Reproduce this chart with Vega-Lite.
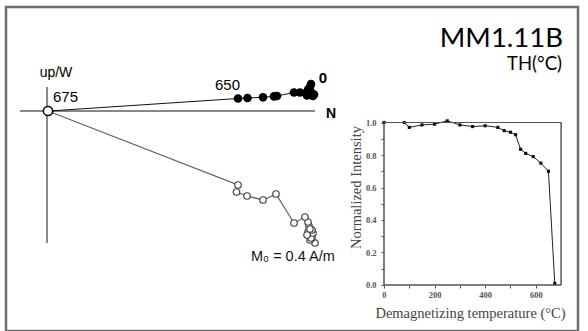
{
  "$schema": "https://vega.github.io/schema/vega-lite/v6.json",
  "width": 572,
  "height": 324,
  "autosize": {"type": "none"},
  "padding": {"left": 6, "top": 7, "right": 10, "bottom": 0},
  "background": "white",
  "config": {"view": {"stroke": "#6e6e6e", "strokeWidth": 2.5}, "font": "Liberation Sans"},
  "datasets": {
    "horizontal": [
      {"T": 0, "N": 264, "E": 27}, {"T": 80, "N": 263, "E": 24}, {"T": 100, "N": 262, "E": 22},
      {"T": 150, "N": 264, "E": 19}, {"T": 200, "N": 267, "E": 16.5}, {"T": 250, "N": 260, "E": 15.5},
      {"T": 300, "N": 266, "E": 15}, {"T": 350, "N": 261, "E": 21.5}, {"T": 400, "N": 265, "E": 16},
      {"T": 450, "N": 262, "E": 20}, {"T": 475, "N": 259, "E": 17.7}, {"T": 500, "N": 253, "E": 18.5},
      {"T": 520, "N": 247, "E": 18.5}, {"T": 540, "N": 230, "E": 15}, {"T": 560, "N": 227, "E": 14.6},
      {"T": 590, "N": 216, "E": 13.7}, {"T": 620, "N": 200.5, "E": 13}, {"T": 650, "N": 191, "E": 12.5},
      {"T": 675, "N": 2, "E": 0}
    ],
    "vertical": [
      {"T": 0, "N": 268, "Up": -132}, {"T": 80, "N": 263, "Up": -129}, {"T": 100, "N": 265, "Up": -127},
      {"T": 150, "N": 261, "Up": -121}, {"T": 200, "N": 264, "Up": -127}, {"T": 250, "N": 266, "Up": -122},
      {"T": 300, "N": 262, "Up": -115}, {"T": 350, "N": 265, "Up": -119}, {"T": 400, "N": 260, "Up": -124},
      {"T": 450, "N": 263, "Up": -118}, {"T": 475, "N": 261, "Up": -111}, {"T": 500, "N": 258, "Up": -106},
      {"T": 520, "N": 247, "Up": -112}, {"T": 540, "N": 229, "Up": -83}, {"T": 560, "N": 216, "Up": -89},
      {"T": 590, "N": 200, "Up": -85}, {"T": 620, "N": 189.5, "Up": -81}, {"T": 650, "N": 191, "Up": -74},
      {"T": 675, "N": 1, "Up": 0}
    ],
    "decay": [
      {"T": 0, "I": 1.0}, {"T": 80, "I": 1.0}, {"T": 100, "I": 0.97}, {"T": 150, "I": 0.985},
      {"T": 200, "I": 0.99}, {"T": 250, "I": 1.01}, {"T": 300, "I": 0.985}, {"T": 350, "I": 0.975},
      {"T": 400, "I": 0.98}, {"T": 450, "I": 0.97}, {"T": 475, "I": 0.95}, {"T": 500, "I": 0.94},
      {"T": 520, "I": 0.925}, {"T": 540, "I": 0.835}, {"T": 560, "I": 0.81}, {"T": 590, "I": 0.79},
      {"T": 620, "I": 0.75}, {"T": 650, "I": 0.70}, {"T": 675, "I": 0.01}
    ],
    "insetCorners": [
      {"k": 0, "T": 0, "I": 0}, {"k": 1, "T": 700, "I": 0}, {"k": 2, "T": 700, "I": 1},
      {"k": 3, "T": 0, "I": 1}, {"k": 4, "T": 0, "I": 0}
    ],
    "one": [{}]
  },
  "resolve": {
    "scale": {"x": "independent", "y": "independent"},
    "axis": {"x": "independent", "y": "independent"}
  },
  "layer": [
    {
      "data": {"name": "one"},
      "mark": {"type": "rect", "fill": "transparent", "stroke": "#555", "strokeWidth": 1},
      "encoding": {
        "x": {"datum": 0, "type": "quantitative", "scale": {"domain": [-1494.07, 766.8], "nice": false, "zero": false}, "axis": null},
        "x2": {"datum": 700},
        "y": {"datum": 0, "type": "quantitative", "scale": {"domain": [-0.2831, 1.7108], "nice": false, "zero": false}, "axis": null},
        "y2": {"datum": 1.0}
      }
    },
    {
      "data": {"name": "decay"},
      "mark": {"type": "line", "color": "#222", "strokeWidth": 1},
      "encoding": {
        "x": {
          "field": "T", "type": "quantitative",
          "scale": {"domain": [-1494.07, 766.8], "nice": false, "zero": false},
          "axis": {
            "orient": "bottom", "offset": -46, "domain": false, "grid": false,
            "values": [0, 100, 200, 300, 400, 500, 600],
            "labelExpr": "datum.value % 200 == 0 ? format(datum.value, 'd') : ''",
            "tickSize": 3, "tickColor": "#555", "labelFont": "Liberation Serif", "labelFontSize": 8.5,
            "labelFontWeight": "bold", "labelColor": "#555", "labelPadding": 2,
            "title": "Demagnetizing temperature (°C)", "titleFont": "Liberation Serif", "titleFontSize": 14.5,
            "titleFontWeight": "normal", "titleColor": "#444", "titleX": 464, "titleY": 28,
            "titleBaseline": "middle", "titleAlign": "center"
          }
        },
        "y": {
          "field": "I", "type": "quantitative",
          "scale": {"domain": [-0.2831, 1.7108], "nice": false, "zero": false},
          "axis": {
            "orient": "left", "offset": -378, "domain": false, "grid": false,
            "values": [0, 0.1, 0.2, 0.3, 0.4, 0.5, 0.6, 0.7, 0.8, 0.9, 1.0],
            "labelExpr": "round(datum.value * 10) % 2 == 0 ? format(datum.value, '.1f') : ''",
            "tickSize": 3, "tickColor": "#555", "labelFont": "Liberation Serif", "labelFontSize": 8.5,
            "labelFontWeight": "bold", "labelColor": "#555", "labelPadding": 5,
            "title": "Normalized Intensity", "titleFont": "Liberation Serif", "titleFontSize": 14.5,
            "titleFontWeight": "normal", "titleColor": "#444", "titleX": -28, "titleY": 180,
            "titleBaseline": "middle", "titleAlign": "center", "titleAngle": 270
          }
        },
        "order": {"field": "T", "type": "quantitative"}
      }
    },
    {
      "data": {"name": "decay"},
      "mark": {"type": "point", "shape": "square", "filled": true, "color": "#111", "opacity": 1, "size": 10},
      "encoding": {
        "x": {"field": "T", "type": "quantitative", "scale": {"domain": [-1494.07, 766.8], "nice": false, "zero": false}, "axis": null},
        "y": {"field": "I", "type": "quantitative", "scale": {"domain": [-0.2831, 1.7108], "nice": false, "zero": false}, "axis": null}
      }
    },
    {
      "data": {"name": "insetCorners"},
      "mark": {"type": "line", "color": "#555", "strokeWidth": 1},
      "encoding": {
        "x": {"field": "T", "type": "quantitative", "scale": {"domain": [-1494.07, 766.8], "nice": false, "zero": false}, "axis": null},
        "y": {"field": "I", "type": "quantitative", "scale": {"domain": [-0.2831, 1.7108], "nice": false, "zero": false}, "axis": null},
        "order": {"field": "k", "type": "quantitative"}
      }
    },
    {
      "data": {"name": "one"},
      "mark": {"type": "rule", "color": "#111", "strokeWidth": 1},
      "encoding": {
        "x": {"datum": -27, "type": "quantitative", "scale": {"domain": [-41, 531], "nice": false, "zero": false}, "axis": null},
        "x2": {"datum": 268},
        "y": {"datum": 0, "type": "quantitative", "scale": {"domain": [-220, 104], "nice": false, "zero": false}, "axis": null}
      }
    },
    {
      "data": {"name": "one"},
      "mark": {"type": "rule", "color": "#111", "strokeWidth": 1},
      "encoding": {
        "x": {"datum": 0, "type": "quantitative", "scale": {"domain": [-41, 531], "nice": false, "zero": false}, "axis": null},
        "y": {"datum": 24, "type": "quantitative", "scale": {"domain": [-220, 104], "nice": false, "zero": false}, "axis": null},
        "y2": {"datum": -132}
      }
    },
    {
      "data": {"name": "horizontal"},
      "mark": {"type": "line", "color": "#111", "strokeWidth": 1},
      "encoding": {
        "x": {"field": "N", "type": "quantitative", "scale": {"domain": [-41, 531], "nice": false, "zero": false}, "axis": null},
        "y": {"field": "E", "type": "quantitative", "scale": {"domain": [-220, 104], "nice": false, "zero": false}, "axis": null},
        "order": {"field": "T", "type": "quantitative"}
      }
    },
    {
      "data": {"name": "horizontal"},
      "mark": {"type": "circle", "color": "#000", "opacity": 1, "size": 75},
      "encoding": {
        "x": {"field": "N", "type": "quantitative", "scale": {"domain": [-41, 531], "nice": false, "zero": false}, "axis": null},
        "y": {"field": "E", "type": "quantitative", "scale": {"domain": [-220, 104], "nice": false, "zero": false}, "axis": null}
      }
    },
    {
      "data": {"name": "vertical"},
      "mark": {"type": "line", "color": "#666", "strokeWidth": 1.3},
      "encoding": {
        "x": {"field": "N", "type": "quantitative", "scale": {"domain": [-41, 531], "nice": false, "zero": false}, "axis": null},
        "y": {"field": "Up", "type": "quantitative", "scale": {"domain": [-220, 104], "nice": false, "zero": false}, "axis": null},
        "order": {"field": "T", "type": "quantitative"}
      }
    },
    {
      "data": {"name": "vertical"},
      "mark": {"type": "point", "shape": "circle", "filled": false, "fill": "white", "fillOpacity": 1, "stroke": "#444", "strokeWidth": 1.2, "opacity": 1, "size": 42},
      "encoding": {
        "x": {"field": "N", "type": "quantitative", "scale": {"domain": [-41, 531], "nice": false, "zero": false}, "axis": null},
        "y": {"field": "Up", "type": "quantitative", "scale": {"domain": [-220, 104], "nice": false, "zero": false}, "axis": null}
      }
    },
    {
      "data": {"name": "one"},
      "mark": {"type": "point", "shape": "circle", "filled": false, "fill": "white", "fillOpacity": 1, "stroke": "#000", "strokeWidth": 1.5, "opacity": 1, "size": 85},
      "encoding": {
        "x": {"datum": 1, "type": "quantitative", "scale": {"domain": [-41, 531], "nice": false, "zero": false}, "axis": null},
        "y": {"datum": 0, "type": "quantitative", "scale": {"domain": [-220, 104], "nice": false, "zero": false}, "axis": null}
      }
    },
    {
      "data": {"name": "one"},
      "mark": {"type": "text", "text": "up/W", "font": "Liberation Sans", "fontSize": 14, "align": "center", "baseline": "alphabetic", "color": "#000"},
      "encoding": {
        "x": {"datum": 9, "type": "quantitative", "scale": {"domain": [-41, 531], "nice": false, "zero": false}, "axis": null},
        "y": {"datum": 34, "type": "quantitative", "scale": {"domain": [-220, 104], "nice": false, "zero": false}, "axis": null}
      }
    },
    {
      "data": {"name": "one"},
      "mark": {"type": "text", "text": "675", "font": "Liberation Sans", "fontSize": 15, "align": "left", "baseline": "alphabetic", "color": "#000"},
      "encoding": {
        "x": {"datum": 6, "type": "quantitative", "scale": {"domain": [-41, 531], "nice": false, "zero": false}, "axis": null},
        "y": {"datum": 9, "type": "quantitative", "scale": {"domain": [-220, 104], "nice": false, "zero": false}, "axis": null}
      }
    },
    {
      "data": {"name": "one"},
      "mark": {"type": "text", "text": "650", "font": "Liberation Sans", "fontSize": 15, "align": "left", "baseline": "alphabetic", "color": "#000"},
      "encoding": {
        "x": {"datum": 168, "type": "quantitative", "scale": {"domain": [-41, 531], "nice": false, "zero": false}, "axis": null},
        "y": {"datum": 21, "type": "quantitative", "scale": {"domain": [-220, 104], "nice": false, "zero": false}, "axis": null}
      }
    },
    {
      "data": {"name": "one"},
      "mark": {"type": "text", "text": "0", "font": "Liberation Sans", "fontSize": 15, "fontWeight": "bold", "align": "center", "baseline": "alphabetic", "color": "#000"},
      "encoding": {
        "x": {"datum": 276, "type": "quantitative", "scale": {"domain": [-41, 531], "nice": false, "zero": false}, "axis": null},
        "y": {"datum": 28, "type": "quantitative", "scale": {"domain": [-220, 104], "nice": false, "zero": false}, "axis": null}
      }
    },
    {
      "data": {"name": "one"},
      "mark": {"type": "text", "text": "N", "font": "Liberation Sans", "fontSize": 14, "fontWeight": "bold", "align": "center", "baseline": "alphabetic", "color": "#000"},
      "encoding": {
        "x": {"datum": 284, "type": "quantitative", "scale": {"domain": [-41, 531], "nice": false, "zero": false}, "axis": null},
        "y": {"datum": -7, "type": "quantitative", "scale": {"domain": [-220, 104], "nice": false, "zero": false}, "axis": null}
      }
    },
    {
      "data": {"name": "one"},
      "mark": {"type": "text", "text": "M₀ = 0.4 A/m", "font": "Liberation Sans", "fontSize": 14.5, "align": "left", "baseline": "alphabetic", "color": "#111"},
      "encoding": {
        "x": {"datum": 204, "type": "quantitative", "scale": {"domain": [-41, 531], "nice": false, "zero": false}, "axis": null},
        "y": {"datum": -150, "type": "quantitative", "scale": {"domain": [-220, 104], "nice": false, "zero": false}, "axis": null}
      }
    },
    {
      "data": {"name": "one"},
      "mark": {"type": "text", "text": "MM1.11B", "font": "Lato", "fontSize": 27.5, "align": "right", "baseline": "alphabetic", "color": "#000"},
      "encoding": {
        "x": {"datum": 516, "type": "quantitative", "scale": {"domain": [-41, 531], "nice": false, "zero": false}, "axis": null},
        "y": {"datum": 64, "type": "quantitative", "scale": {"domain": [-220, 104], "nice": false, "zero": false}, "axis": null}
      }
    },
    {
      "data": {"name": "one"},
      "mark": {"type": "text", "text": "TH(°C)", "font": "Lato", "fontSize": 18.5, "align": "right", "baseline": "alphabetic", "color": "#000"},
      "encoding": {
        "x": {"datum": 515, "type": "quantitative", "scale": {"domain": [-41, 531], "nice": false, "zero": false}, "axis": null},
        "y": {"datum": 41, "type": "quantitative", "scale": {"domain": [-220, 104], "nice": false, "zero": false}, "axis": null}
      }
    }
  ]
}
